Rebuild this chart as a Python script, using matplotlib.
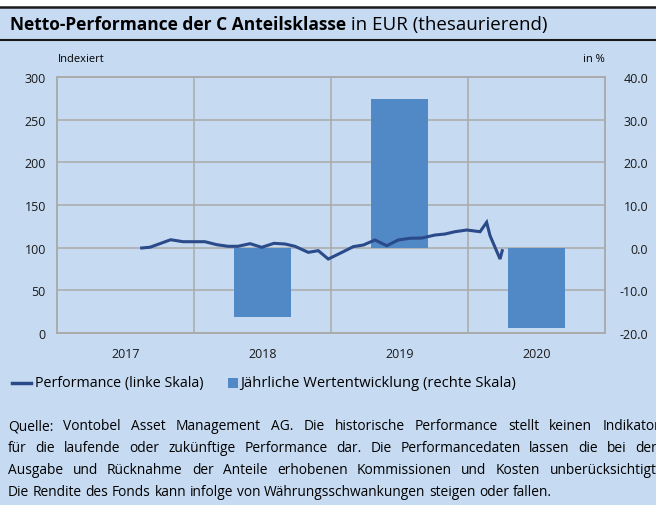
import numpy as np
import matplotlib
matplotlib.use("Agg")
import matplotlib.pyplot as plt
from matplotlib.lines import Line2D
from matplotlib.patches import Rectangle

# chart data
years = ["2017", "2018", "2019", "2020"]
annual_perf = [None, -16.2, 34.8, -18.8]   # % (right scale)

# performance line (left scale), x as decimal year
perf_x = [2017.618, 2017.679, 2017.830, 2017.920, 2018.080, 2018.166, 2018.248,
          2018.321, 2018.409, 2018.494, 2018.584, 2018.664, 2018.737, 2018.834,
          2018.907, 2018.980, 2019.066, 2019.163, 2019.236, 2019.321, 2019.407,
          2019.491, 2019.577, 2019.662, 2019.759, 2019.832, 2019.905, 2019.991,
          2020.088, 2020.136, 2020.161, 2020.234, 2020.250]
perf_y = [99.6, 100.5, 109.3, 107.0, 107.0, 103.5, 101.6, 101.6, 104.7, 100.4,
          105.1, 104.3, 101.6, 94.5, 96.5, 86.7, 93.4, 101.2, 103.1, 109.0,
          102.3, 109.0, 111.0, 111.3, 114.8, 116.0, 118.7, 120.7, 118.7, 129.7,
          114.0, 86.7, 96.5]

left_ticks = [0, 50, 100, 150, 200, 250, 300]
right_ticks = [-20, -10, 0, 10, 20, 30, 40]

title_bold = "Netto-Performance der C Anteilsklasse"
title_rest = " in EUR (thesaurierend)"
legend_labels = ["Performance (linke Skala)", "Jährliche Wertentwicklung (rechte Skala)"]
footer = [
    "Quelle: Vontobel Asset Management AG. Die historische Performance stellt keinen Indikator",
    "für die laufende oder zukünftige Performance dar. Die Performancedaten lassen die bei den",
    "Ausgabe und Rücknahme der Anteile erhobenen Kommissionen und Kosten unberücksichtigt.",
    "Die Rendite des Fonds kann infolge von Währungsschwankungen steigen oder fallen.",
]

BG = "#c6daf1"
BAR = "#5089c6"
LINE = "#2a4a8a"
GRID = "#aaaaaa"

plt.rcParams['font.family'] = ['Open Sans', 'DejaVu Sans']

W, H = 656, 506
fig = plt.figure(figsize=(W / 100, H / 100), dpi=100, facecolor=BG)

def fx(px):
    return px / W

def fy(py):
    return 1 - py / H

# white strip and title bar borders
fig.patches.append(Rectangle((0, fy(8)), 1, 1 - fy(8), transform=fig.transFigure,
                             facecolor="white", edgecolor="none"))
fig.add_artist(Line2D([0, 1], [fy(8), fy(8)], color="#1a1a1a", lw=1.8))
fig.add_artist(Line2D([0, 1], [fy(41), fy(41)], color="#1a1a1a", lw=1.5))

# axes
ax = fig.add_axes([fx(57), fy(334), fx(605 - 57), (334 - 78) / H])
ax2 = ax.twinx()
ax.set_zorder(ax2.get_zorder() + 1)
ax.patch.set_visible(False)

ax.set_xlim(2017, 2021)
ax.set_ylim(0, 300)
ax2.set_ylim(-20, 40)

# bars on right scale
centers = [2017.5 + i for i in range(len(years))]
for c, v in zip(centers, annual_perf):
    if v is not None:
        ax2.bar(c, v, width=0.42, color=BAR, zorder=2)

ax2.set_yticks(right_ticks)
ax2.set_yticklabels(["%.1f" % t for t in right_ticks], ha="right")
ax2.yaxis.grid(True, color=GRID, lw=1.1)
ax2.set_axisbelow(True)
for b in [2018, 2019, 2020]:
    ax2.axvline(b, color=GRID, lw=1.1, zorder=0.5)

ax.plot(perf_x, perf_y, color=LINE, lw=2.2, solid_joinstyle="miter")

ax.set_yticks(left_ticks)
ax.set_xticks(centers)
ax.set_xticklabels(years)

for a in (ax, ax2):
    a.tick_params(length=0, labelsize=9, colors="#1a1a1a")
    for s in a.spines.values():
        s.set_color(GRID)
        s.set_linewidth(1.1)
ax.tick_params(axis="y", pad=8)
ax.tick_params(axis="x", pad=10)
ax2.tick_params(axis="y", pad=31)

fig.text(fx(58), fy(60), "Indexiert", fontsize=8, va="center", ha="left")
fig.text(fx(605), fy(60), "in %", fontsize=8, va="center", ha="right")

# title
renderer = fig.canvas.get_renderer()
t1 = fig.text(fx(10), fy(25), title_bold, fontsize=12.5, fontweight="bold", va="center", ha="left")
bb = t1.get_window_extent(renderer)
fig.text(bb.x1 / W, fy(25), title_rest, fontsize=13.5, va="center", ha="left")

# legend (drawn by hand to match the compact swatches)
fig.add_artist(Line2D([fx(12), fx(31)], [fy(384), fy(384)], color=LINE, lw=2.5))
fig.text(fx(35), fy(384), legend_labels[0], fontsize=10.3, va="center", ha="left")
fig.patches.append(Rectangle((fx(228), fy(389)), fx(10), 10 / H, transform=fig.transFigure,
                             facecolor=BAR, edgecolor="none"))
fig.text(fx(240), fy(384), legend_labels[1], fontsize=10.6, va="center", ha="left")

# footer, justified
FS = 9.9

def justified(text, y, x0, x1, justify=True):
    words = text.split(" ")
    objs = [fig.text(0, y, w, fontsize=FS, va="center", ha="left") for w in words]
    widths = [o.get_window_extent(renderer).width for o in objs]
    if justify and len(words) > 1:
        gap = (x1 - x0 - sum(widths)) / (len(words) - 1)
    else:
        sp = fig.text(0, y, "a a", fontsize=FS)
        sp2 = fig.text(0, y, "aa", fontsize=FS)
        gap = sp.get_window_extent(renderer).width - sp2.get_window_extent(renderer).width
        sp.remove()
        sp2.remove()
    x = x0
    for o, w in zip(objs, widths):
        o.set_x(x / W)
        x += w + gap

for i, line in enumerate(footer):
    justified(line, fy(427 + 22 * i), 8, 660, justify=(i < len(footer) - 1))

fig.savefig("out.png", dpi=100, facecolor=BG)
